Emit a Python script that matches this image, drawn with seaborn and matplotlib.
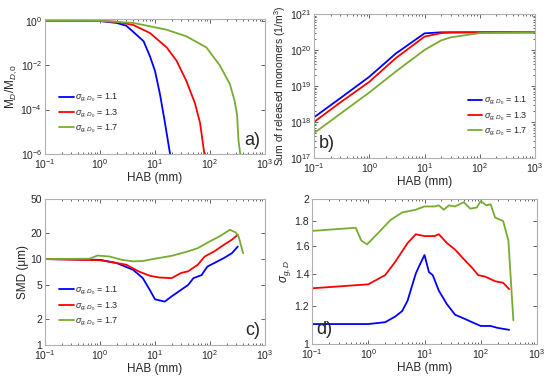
import numpy as np
import pandas as pd
import matplotlib
matplotlib.use("Agg")
import matplotlib.pyplot as plt
from matplotlib.ticker import FixedLocator, NullLocator, FixedFormatter
import seaborn as sns

sns.set_theme(style="ticks")
plt.rcParams["font.family"] = ["Liberation Sans", "DejaVu Sans"]
plt.rcParams["mathtext.fontset"] = "custom"
plt.rcParams["mathtext.rm"] = "Liberation Sans"
plt.rcParams["mathtext.it"] = "Liberation Sans:italic"

LABELS = ["$\\sigma_{g,D_0}$ = 1.1", "$\\sigma_{g,D_0}$ = 1.3", "$\\sigma_{g,D_0}$ = 1.7"]
COLORS = ["#0000ff", "#ff0000", "#77ac30"]

# ---- panel a: M_D/M_D,0 ----
a_x_11 = [0.1, 1, 2, 3, 4, 6.2, 8.1, 10, 12.3, 15, 18.8]
a_y_11 = [1, 0.97, 0.8, 0.6, 0.32, 0.12, 0.025, 5.5e-3, 5e-4, 3e-5, 1e-6]
a_x_13 = [0.1, 1, 2, 4, 8.1, 16.3, 24.6, 37, 53, 66, 79]
a_y_13 = [1, 0.98, 0.9, 0.65, 0.28, 0.063, 0.016, 2e-3, 2e-4, 2.5e-5, 1e-6]
a_x_17 = [0.1, 1, 4, 16, 37, 86, 150, 230, 280, 310, 330, 355]
a_y_17 = [1, 0.99, 0.8, 0.4, 0.2, 0.063, 0.01, 1.4e-3, 2.5e-4, 6e-5, 4e-6, 1e-6]

# ---- panel b: sum of released monomers ----
b_x = [0.1, 0.3, 1, 3, 10, 20, 30, 100, 1000]
b_y_11 = [1.35e18, 4.6e18, 1.8e19, 7.9e19, 2.9e20, 3.1e20, 3.1e20, 3.1e20, 3.1e20]
b_y_13 = [1.0e18, 3.5e18, 1.3e19, 5.9e19, 2.35e20, 2.95e20, 3.05e20, 3.1e20, 3.1e20]
b_y_17 = [4.9e17, 1.7e18, 6.6e18, 2.5e19, 1.0e20, 1.85e20, 2.25e20, 2.95e20, 3.1e20]

# ---- panel c: SMD ----
c_x_11 = [0.1, 1, 2, 4, 6, 8, 10, 15, 20, 30, 40, 50, 70, 90, 120, 180, 250, 320]
c_y_11 = [10, 9.8, 9.0, 7.5, 6.0, 4.4, 3.4, 3.2, 3.67, 4.4, 5.0, 6.0, 6.5, 8.2, 9.0, 10.3, 11.7, 14]
c_x_13 = [0.1, 1, 3, 5, 8, 12, 20, 30, 40, 60, 80, 120, 180, 250, 320]
c_y_13 = [10, 9.7, 8.6, 7.2, 6.4, 6.1, 6.0, 6.9, 7.2, 8.6, 10.7, 12.3, 14.7, 16.8, 19.2]
c_x_17 = [0.1, 0.65, 0.9, 1.5, 2.5, 4, 6, 10, 20, 40, 60, 100, 150, 230, 290, 330, 400]
c_y_17 = [10, 10.1, 11.0, 10.7, 9.8, 9.4, 9.5, 10.1, 10.9, 12.3, 13.4, 16.1, 18.4, 21.9, 20.5, 18.4, 11.7]

# ---- panel d: sigma_g,D ----
d_x_11 = [0.1, 1, 2, 3, 4, 5, 6, 7, 8, 10, 12, 14, 18, 25, 35, 50, 70, 100, 150, 200, 320]
d_y_11 = [1.10, 1.10, 1.11, 1.14, 1.17, 1.23, 1.32, 1.40, 1.45, 1.53, 1.41, 1.39, 1.29, 1.21,
          1.15, 1.13, 1.11, 1.09, 1.09, 1.08, 1.07]
d_x_13 = [0.1, 1, 2, 3, 5, 7, 10, 15, 18, 25, 35, 50, 70, 90, 120, 180, 250, 320]
d_y_13 = [1.305, 1.33, 1.39, 1.48, 1.62, 1.69, 1.675, 1.675, 1.69, 1.62, 1.57, 1.50, 1.44,
          1.39, 1.38, 1.35, 1.34, 1.30]
d_x_17 = [0.1, 0.6, 0.75, 0.95, 1.5, 2.5, 4, 7, 10, 15, 18, 22, 27, 35, 50, 65, 85, 100,
          125, 150, 180, 250, 310, 380]
d_y_17 = [1.717, 1.743, 1.64, 1.61, 1.70, 1.81, 1.875, 1.90, 1.93, 1.93, 1.94, 1.90, 1.94,
          1.93, 1.97, 1.91, 1.92, 1.98, 1.94, 1.95, 1.83, 1.80, 1.64, 1.12]


def frame(xs, ys):
    parts = []
    for lab, x, y in zip(LABELS, xs, ys):
        parts.append(pd.DataFrame({"HAB": x, "val": y, "case": lab}))
    return pd.concat(parts, ignore_index=True)


def style_ax(ax):
    ax.set_xscale("log")
    ax.set_yscale("log")
    ax.set_xlim(0.1, 1000)
    ax.set_xlabel("HAB (mm)", fontsize=8.5, color="#262626", labelpad=1)
    ax.tick_params(direction="in", which="both", top=True, right=True,
                   labelsize=7.5, colors="#262626", length=3, width=0.5, pad=2)
    ax.tick_params(which="minor", length=1.5)
    for s in ax.spines.values():
        s.set_color("#b0b0b0")
        s.set_linewidth(0.8)


def legend(ax, loc, anchor):
    ax.legend(loc=loc, bbox_to_anchor=anchor, frameon=False, fontsize=6.5,
              handlelength=1.6, handletextpad=0.2, labelspacing=0.35,
              borderaxespad=0.2)


fig = plt.figure(figsize=(5.5, 3.81), dpi=100)
W, H = 550, 381


def add(l, t, r, b):
    return fig.add_axes([l / W, 1 - b / H, (r - l) / W, (b - t) / H])


ax_a = add(45, 19, 265, 154)
ax_b = add(314, 14, 535, 158)
ax_c = add(45, 199, 265, 345)
ax_d = add(312, 199, 537, 344)

panels = [
    (ax_a, frame([a_x_11, a_x_13, a_x_17], [a_y_11, a_y_13, a_y_17])),
    (ax_b, frame([b_x, b_x, b_x], [b_y_11, b_y_13, b_y_17])),
    (ax_c, frame([c_x_11, c_x_13, c_x_17], [c_y_11, c_y_13, c_y_17])),
    (ax_d, frame([d_x_11, d_x_13, d_x_17], [d_y_11, d_y_13, d_y_17])),
]

for ax, df in panels:
    sns.lineplot(data=df, x="HAB", y="val", hue="case", palette=COLORS,
                 estimator=None, sort=False, linewidth=1.3, ax=ax,
                 legend=(ax is not ax_d))
    style_ax(ax)

# panel a
ax_a.set_ylim(1e-6, 1.2)
ax_a.yaxis.set_major_locator(FixedLocator([1e-6, 1e-4, 1e-2, 1]))
ax_a.yaxis.set_minor_locator(NullLocator())
ax_a.set_ylabel("M$_D$/M$_{D,0}$", fontsize=8.5, color="#262626", labelpad=1)
legend(ax_a, "lower left", (0.04, 0.1))
ax_a.text(0.98, 0.04, "a)", transform=ax_a.transAxes, ha="right", va="bottom", fontsize=13)

# panel b
ax_b.set_ylim(1e17, 1e21)
ax_b.set_ylabel("Sum of released monomers (1/m$^3$)", fontsize=7.5, color="#262626", labelpad=1)
legend(ax_b, "lower right", (0.99, 0.1))
ax_b.text(0.02, 0.04, "b)", transform=ax_b.transAxes, ha="left", va="bottom", fontsize=13)

# panel c
ax_c.set_ylim(1, 50)
ax_c.yaxis.set_major_locator(FixedLocator([1, 2, 5, 10, 20, 50]))
ax_c.yaxis.set_major_formatter(FixedFormatter(["1", "2", "5", "10", "20", "50"]))
ax_c.yaxis.set_minor_locator(NullLocator())
ax_c.set_ylabel("SMD (μm)", fontsize=8.5, color="#262626", labelpad=1)
legend(ax_c, "lower left", (0.04, 0.08))
ax_c.text(0.98, 0.04, "c)", transform=ax_c.transAxes, ha="right", va="bottom", fontsize=13)

# panel d
ax_d.set_ylim(1, 2)
ax_d.yaxis.set_major_locator(FixedLocator([1, 1.2, 1.4, 1.6, 1.8, 2]))
ax_d.yaxis.set_major_formatter(FixedFormatter(["1", "1.2", "1.4", "1.6", "1.8", "2"]))
ax_d.yaxis.set_minor_locator(NullLocator())
ax_d.set_ylabel("$\\sigma_{g,D}$", fontsize=8.5, color="#262626", labelpad=1)
ax_d.text(0.02, 0.04, "d)", transform=ax_d.transAxes, ha="left", va="bottom", fontsize=13)

fig.savefig("out.png", dpi=100)
